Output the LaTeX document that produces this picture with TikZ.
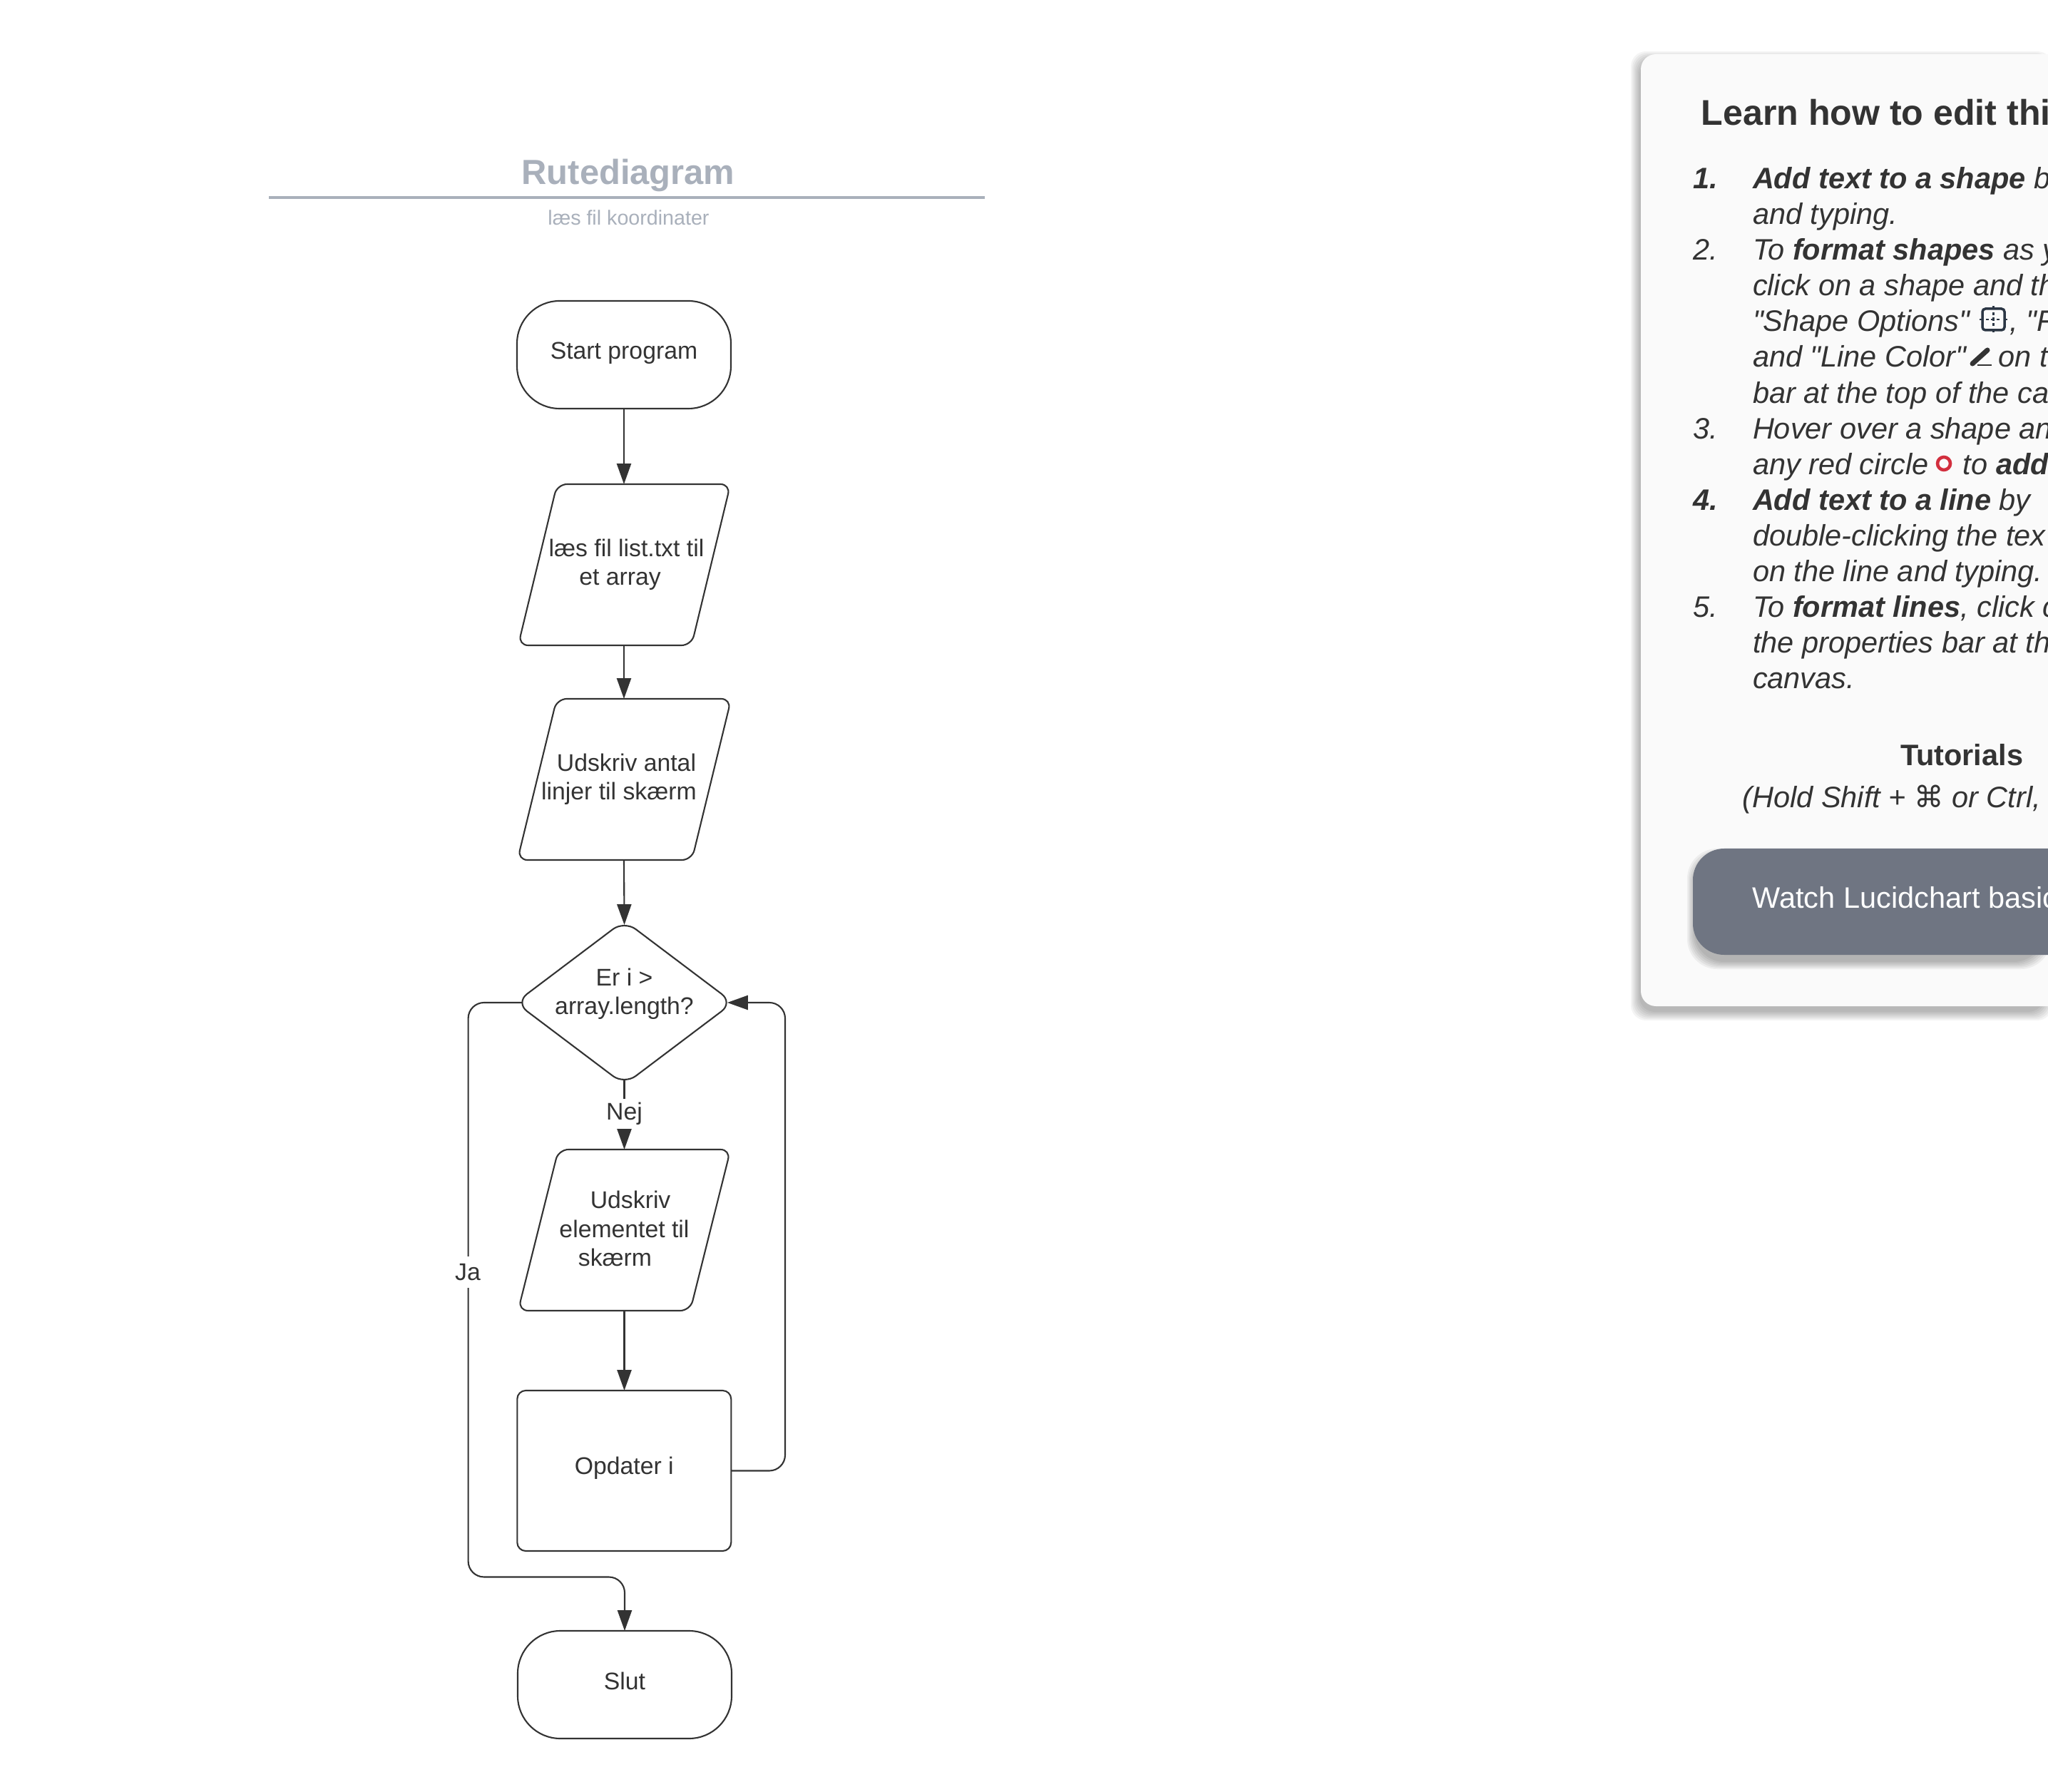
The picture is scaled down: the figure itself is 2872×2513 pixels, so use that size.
\documentclass[tikz,border=0pt]{standalone}
\usepackage{fontspec}
\setmainfont{Liberation Sans}[Ligatures=TeXOff]
\newfontfamily\symbolfont{DejaVu Sans}
\usetikzlibrary{arrows.meta,shapes.geometric}
\definecolor{inkgrey}{HTML}{333333}
\definecolor{titlegrey}{HTML}{A9B0BB}
\definecolor{panelgrey}{HTML}{FAFAFA}
\definecolor{buttongrey}{HTML}{6F7582}
\definecolor{icondark}{HTML}{2B3644}
\definecolor{circlered}{HTML}{D22F3E}
\tikzset{
  shapetext/.style={font=\fontsize{9.6}{11.5}\selectfont,text=inkgrey,inner sep=0pt,outer sep=0pt},
  terminal/.style={shapetext,draw=inkgrey,line width=.6pt,rectangle,rounded corners=17pt,minimum width=300\onepx,minimum height=151\onepx,text height=6.5pt,text depth=2.8pt},
  process/.style={shapetext,draw=inkgrey,line width=.6pt,rectangle,rounded corners=3.4pt,minimum width=300\onepx,minimum height=225\onepx,text height=6.5pt,text depth=3.8pt},
  inout/.style={shapetext,draw=inkgrey,line width=.6pt,trapezium,trapezium left angle=76,trapezium right angle=104,trapezium stretches=true,rounded corners=4pt,inner ysep=21pt,minimum width=300\onepx,minimum height=226\onepx,align=center},
  decision/.style={shapetext,draw=inkgrey,line width=.6pt,diamond,aspect=1.326,rounded corners=5.7pt,minimum width=305\onepx,minimum height=230\onepx,align=center,text depth=8.8pt},
  flowline/.style={draw=inkgrey,line width=.6pt,-{Triangle[length=8.2pt,width=5.7pt]}},
  linelabel/.style={shapetext,fill=white,inner xsep=1pt,inner ysep=1.5pt},
  listtext/.style={anchor=base west,inner sep=0pt,outer sep=0pt,text=inkgrey,font=\fontsize{11.8}{14}\selectfont\itshape},
}
\newlength{\onepx}
\setlength{\onepx}{0.01cm}
\begin{document}
\begin{tikzpicture}[x=0.01cm,y=-0.01cm]
  \clip (0,0) rectangle (2872,2513);
  \fill[white] (0,0) rectangle (2872,2513);
  % Title
  \node[text=titlegrey,font=\fontsize{13.9}{16}\selectfont\bfseries,anchor=base,inner sep=0pt] (title) at (881,259) {Rutediagram};
  \draw[titlegrey,line width=1.1pt] (377,277) -- (1381,277);
  \node[text=titlegrey,font=\fontsize{8.15}{10}\selectfont,anchor=base,inner sep=0pt] (subtitle) at (881.5,316) {læs fil koordinater};
  % Shapes
  \node[terminal] (start) at (875,497.5) {Start program};
  \node[inout,inner xsep=-4.9pt] (readfile) at (875.5,792) {\hspace*{1.7pt}læs fil list.txt til\\et array\hspace*{3.4pt}};
  \node[inout,inner xsep=-6.3pt] (printcount) at (875.5,1093) {\hspace*{1.7pt}Udskriv antal\\linjer til skærm\hspace*{4.3pt}};
  \node[decision] (check) at (875.5,1406) {Er i >\\\hspace*{-7pt}array.length?\hspace*{-7pt}};
  \node[inout,inner ysep=16.2pt,text depth=1.2pt] (printitem) at (875.5,1725) {\hspace*{4.9pt}Udskriv\\elementet til\hspace*{1.1pt}\\skærm\hspace*{7.4pt}};
  \node[process] (update) at (875.3,2062.5) {Opdater i};
  \node[terminal] (stop) at (876,2362.5) {Slut};
  % Connectors
  \coordinate (loopturn) at (1101,1406);
  \coordinate (yesturn) at (656.6,2211.5);
  \draw[flowline] (start.south) -- (start.south |- readfile.north);
  \draw[flowline] (readfile.south -| start.south) -- (start.south |- printcount.north);
  \draw[flowline,shorten >=-1.7pt] (printcount.south -| start.south) -- (check.north);
  \draw[flowline,shorten <=-2pt] (check.south) -- node[linelabel,pos=.45] (nolabel) {Nej} (check.south |- printitem.north);
  \draw[flowline] (printitem.south -| check.south) -- (check.south |- update.north);
  \draw[flowline,rounded corners=6.3pt,shorten >=-2.3pt] (update.east) -| (loopturn) -- (check.east);
  \draw[flowline,rounded corners=6.3pt,shorten <=-2.6pt] (check.west) -| (yesturn) -| (stop.north);
  \node[linelabel,inner ysep=3pt] (yeslabel) at (656,1784) {Ja};
  % Panel
  \foreach \blur in {0,2,...,12}
    \fill[black,opacity=.045,rounded corners=6pt] (2299-\blur,84-\blur) rectangle (2866+\blur,1419+\blur);
  \fill[panelgrey,rounded corners=6pt] (2301,76) rectangle (2920,1411);
  \node[anchor=base west,inner sep=0pt,text=inkgrey,font=\fontsize{14.25}{17}\selectfont\bfseries] (heading) at (2385,176) {Learn how to edit thi};
  % List
  \foreach \rowno/\rowlabel in {1/{\textbf{1.}},3/2.,8/3.,10/{\textbf{4.}},13/5.}
    \node[listtext] (num\rowno) at (2374,{264.5+50.1*(\rowno-1)}) {\rowlabel};
  \foreach \rowno/\rowtext in {
    1/{\textbf{Add text to a shape} b},
    2/{and typing.},
    3/{To \textbf{format shapes} as y},
    4/{click on a shape and th},
    5/{"Shape Options"\hspace{16.2pt}, "F},
    6/{and "Line Color"\hspace{12.9pt}on t},
    7/{bar at the top of the ca},
    8/{Hover over a shape an},
    9/{any red circle\hspace{13.7pt}to \textbf{add}},
    10/{\textbf{Add text to a line} by},
    11/{double-clicking the tex},
    12/{on the line and typing.},
    13/{To \textbf{format lines}, click c},
    14/{the properties bar at th},
    15/{canvas.}}
    \node[listtext] (row\rowno) at (2458,{264.5+50.1*(\rowno-1)}) {\rowtext};
  % Icons
  \draw[icondark,line width=1pt,rounded corners=1.2pt] (2780,433) rectangle (2811,463);
  \draw[icondark,line width=.6pt] (2776,448) -- (2780,448) (2811,448) -- (2815,448) (2795.5,429) -- (2795.5,433) (2795.5,463) -- (2795.5,466);
  \draw[icondark,line width=.6pt,dash pattern=on 1.2pt off .9pt] (2785,448) -- (2806,448) (2795.5,438) -- (2795.5,458);
  \draw[inkgrey,line width=2pt,line cap=round] (2766,510) -- (2787,491);
  \draw[inkgrey,line width=.6pt] (2773,512) -- (2793,512);
  \draw[circlered,line width=1.3pt] (2726,650) circle (9);
  % Tutorials
  \node[listtext,font=\fontsize{11.8}{14}\selectfont\bfseries] (tutorials) at (2665,1074) {Tutorials};
  \node[listtext] (hint) at (2443.5,1133) {(Hold Shift + {\symbolfont\upshape ⌘} or Ctrl,};
  % Button
  \foreach \blur in {0,2,...,10}
    \fill[black,opacity=.05,rounded corners=12pt] (2376-\blur,1200-\blur) rectangle (2866+\blur,1349+\blur);
  \fill[buttongrey,rounded corners=12.5pt] (2374,1190) rectangle (2960,1339);
  \node[anchor=base west,inner sep=0pt,text=white,font=\fontsize{11.8}{14}\selectfont] (watch) at (2457,1273) {Watch Lucidchart basic};
\end{tikzpicture}
\end{document}
